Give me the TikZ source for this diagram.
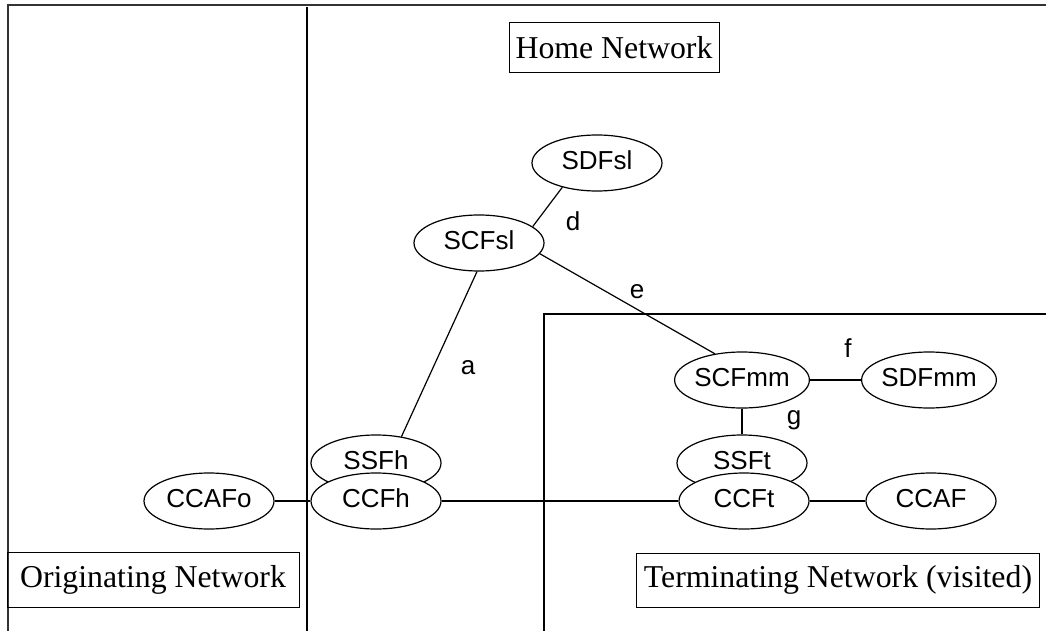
\documentclass[tikz,border=0pt]{standalone}
\usepackage{fontspec}
\setmainfont{Liberation Serif}
\setsansfont{Liberation Sans}
\usetikzlibrary{shapes.geometric}
\definecolor{framegray}{HTML}{333333}
\tikzset{
  func/.style={draw, ellipse, minimum width=130pt, minimum height=56pt,
    inner sep=0pt, text depth=6pt, line width=1.2pt,
    font=\sffamily\fontsize{26}{30}\selectfont},
  netbox/.style={draw, rectangle, inner sep=0pt, line width=1pt,
    font=\rmfamily\fontsize{31.8}{36}\selectfont},
  reflbl/.style={font=\sffamily\fontsize{26}{30}\selectfont},
  link/.style={line width=1.2pt},
  region/.style={line width=2.4pt},
}

\begin{document}
\begin{tikzpicture}[x=1pt,y=-1pt]
  \useasboundingbox (0,0) rectangle (1046,631);
  % network borders
  \draw[framegray, line width=1.6pt] (8,631) -- (8,5) -- (1046,5);
  \draw[region] (307,7) -- (307,631);
  \draw[region] (544,631) -- (544,314) -- (1046,314);
  % network names
  \node[netbox, minimum width=210pt, minimum height=50pt] (home) at (614,48) {Home Network};
  \node[netbox, minimum width=292pt, minimum height=55pt] (orig) at (153,580) {Originating Network};
  \node[netbox, minimum width=403pt, minimum height=54pt] (term) at (838,580) {Terminating Network (visited)};
  % functional entities
  \node[func] (SDFsl) at (597,163) {SDFsl};
  \node[func] (SCFsl) at (479,243) {SCFsl};
  \node[func] (SCFmm) at (742,380) {SCFmm};
  \node[func] (SDFmm) at (929,380) {SDFmm};
  \node[func] (SSFh) at (376,463) {SSFh};
  \node[func, fill=white] (CCFh) at (376,501) {CCFh};
  \node[func] (CCAFo) at (209,501) {CCAFo};
  \node[func] (SSFt) at (742,463) {SSFt};
  \node[func, fill=white] (CCFt) at (744,501) {CCFt};
  \node[func] (CCAF) at (931,501) {CCAF};
  % relationships
  \draw[link] (SCFsl.17) -- (SDFsl.215);
  \draw[link] (SCFsl.-10) -- (SCFmm.136);
  \draw[link] (SCFsl.-94) -- (SSFh.46);
  \draw[link] (SCFmm) -- (SDFmm);
  \draw[link] (SCFmm) -- (SSFt);
  \draw[link] (CCAFo) -- (CCFh);
  \draw[link] (CCFh) -- (CCFt);
  \draw[link] (CCFt) -- (CCAF);
  % reference point labels
  \node[reflbl] (la) at (468,368) {a};
  \node[reflbl] (ld) at (573,221) {d};
  \node[reflbl] (le) at (637,292) {e};
  \node[reflbl] (lf) at (848,348) {f};
  \node[reflbl] (lg) at (794,420) {g};
\end{tikzpicture}
\end{document}
